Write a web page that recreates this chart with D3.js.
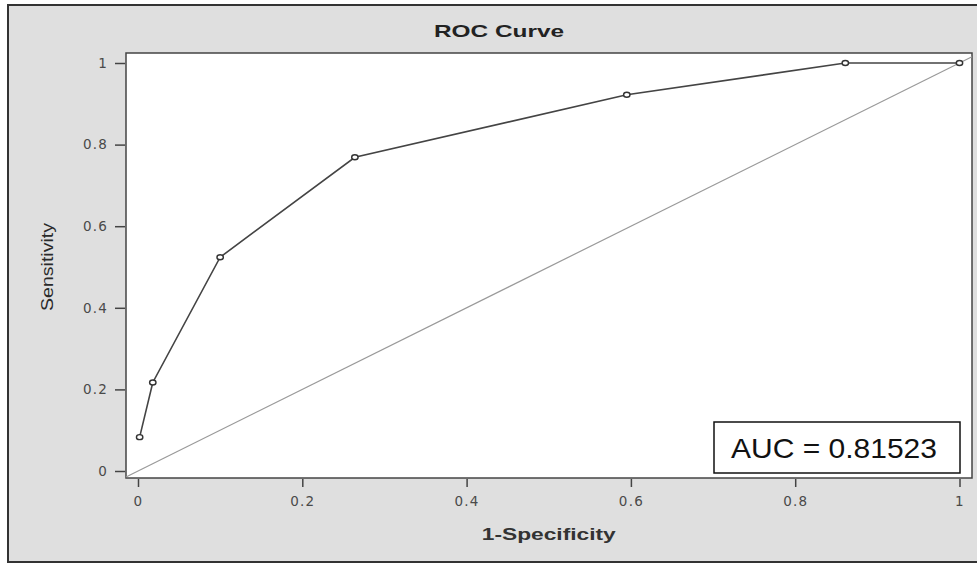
<!DOCTYPE html>
<html>
<head>
<meta charset="utf-8">
<script src="https://cdn.jsdelivr.net/npm/d3@7"></script>
<style>
    body { margin: 0; background: #ffffff; }
    .tick line { stroke: #444444; stroke-width: 1.5; }
</style>
</head>
<body>
<div id="chart"></div>
<script>
// ROC points
const fpr = [0.002, 0.018, 0.1, 0.264, 0.595, 0.861, 1];
const tpr = [0.083, 0.217, 0.524, 0.769, 0.922, 1, 1];
const xTicks = [0, 0.2, 0.4, 0.6, 0.8, 1];
const yTicks = [0, 0.2, 0.4, 0.6, 0.8, 1];
const auc = 0.81523;

const width = 977;
const height = 564;
const plot = {left: 126, top: 53, right: 972, bottom: 478};

const svg = d3.select("#chart")
    .append("svg")
    .attr("width", width)
    .attr("height", height);

// outer frame
svg.append("rect")
    .attr("x", 8)
    .attr("y", 5)
    .attr("width", 990)
    .attr("height", 557)
    .attr("fill", "#dfdfdf")
    .attr("stroke", "#333333")
    .attr("stroke-width", 2);

svg.append("rect")
    .attr("x", plot.left)
    .attr("y", plot.top)
    .attr("width", plot.right - plot.left)
    .attr("height", plot.bottom - plot.top)
    .attr("fill", "#ffffff")
    .attr("stroke", "#444444")
    .attr("stroke-width", 1.5);

const xScale = d3.scaleLinear()
    .domain([0, 1])
    .range([138, 959.5]);

const yScale = d3.scaleLinear()
    .domain([0, 1])
    .range([471, 63]);

const fmt = d => d3.format("~g")(d);

const xAxis = svg.append("g")
    .attr("transform", `translate(0,${plot.bottom + 1})`)
    .call(d3.axisBottom(xScale).tickValues(xTicks).tickSize(8).tickPadding(9).tickFormat(fmt));
xAxis.select(".domain").remove();

const yAxis = svg.append("g")
    .attr("transform", `translate(${plot.left - 1},0)`)
    .call(d3.axisLeft(yScale).tickValues(yTicks).tickSize(10).tickPadding(7).tickFormat(fmt));
yAxis.select(".domain").remove();

svg.selectAll(".tick text")
    .attr("font-family", "DejaVu Sans, sans-serif")
    .attr("font-size", 13.5)
    .attr("letter-spacing", 1.2)
    .attr("fill", "#4a4a4a");

// chance diagonal, drawn across the whole plot box
const t0 = Math.max(xScale.invert(plot.left), yScale.invert(plot.bottom));
const t1 = Math.min(xScale.invert(plot.right), yScale.invert(plot.top));
svg.append("line")
    .attr("x1", xScale(t0))
    .attr("y1", yScale(t0))
    .attr("x2", xScale(t1))
    .attr("y2", yScale(t1))
    .attr("stroke", "#9a9a9a")
    .attr("stroke-width", 1.2);

const points = fpr.map((d, i) => ({x: d, y: tpr[i]}));

const line = d3.line()
    .x(d => xScale(d.x))
    .y(d => yScale(d.y));

svg.append("path")
    .datum(points)
    .attr("d", line)
    .attr("fill", "none")
    .attr("stroke", "#444444")
    .attr("stroke-width", 1.6);

svg.selectAll(".marker")
    .data(points)
    .enter()
    .append("ellipse")
        .attr("class", "marker")
        .attr("cx", d => xScale(d.x))
        .attr("cy", d => yScale(d.y))
        .attr("rx", 3.2)
        .attr("ry", 2.5)
        .attr("fill", "#ffffff")
        .attr("stroke", "#333333")
        .attr("stroke-width", 1.4);

// titles
svg.append("text")
    .attr("x", (plot.left + plot.right) / 2 - 50)
    .attr("y", 37)
    .attr("text-anchor", "middle")
    .attr("font-family", "Liberation Sans, Arial, sans-serif")
    .attr("font-weight", "bold")
    .attr("font-size", 17)
    .attr("fill", "#222222")
    .attr("textLength", 130)
    .attr("lengthAdjust", "spacingAndGlyphs")
    .text("ROC Curve");

svg.append("text")
    .attr("x", (xScale(0) + xScale(1)) / 2)
    .attr("y", 540)
    .attr("text-anchor", "middle")
    .attr("font-family", "Liberation Sans, Arial, sans-serif")
    .attr("font-weight", "bold")
    .attr("font-size", 16)
    .attr("fill", "#333333")
    .attr("textLength", 134)
    .attr("lengthAdjust", "spacingAndGlyphs")
    .text("1-Specificity");

svg.append("text")
    .attr("transform", `translate(53,${(yScale(0) + yScale(1)) / 2}) rotate(-90)`)
    .attr("text-anchor", "middle")
    .attr("font-family", "Liberation Sans, Arial, sans-serif")
    .attr("font-size", 17)
    .attr("fill", "#2a2a2a")
    .attr("textLength", 88)
    .attr("lengthAdjust", "spacingAndGlyphs")
    .text("Sensitivity");

// AUC box
svg.append("rect")
    .attr("x", 714)
    .attr("y", 422)
    .attr("width", 246)
    .attr("height", 51)
    .attr("fill", "#ffffff")
    .attr("stroke", "#111111")
    .attr("stroke-width", 1.5);

svg.append("text")
    .attr("x", 731)
    .attr("y", 458)
    .attr("font-family", "Liberation Sans, Arial, sans-serif")
    .attr("font-size", 28)
    .attr("fill", "#111111")
    .attr("textLength", 206)
    .attr("lengthAdjust", "spacingAndGlyphs")
    .text(`AUC = ${auc}`);
</script>
</body>
</html>
